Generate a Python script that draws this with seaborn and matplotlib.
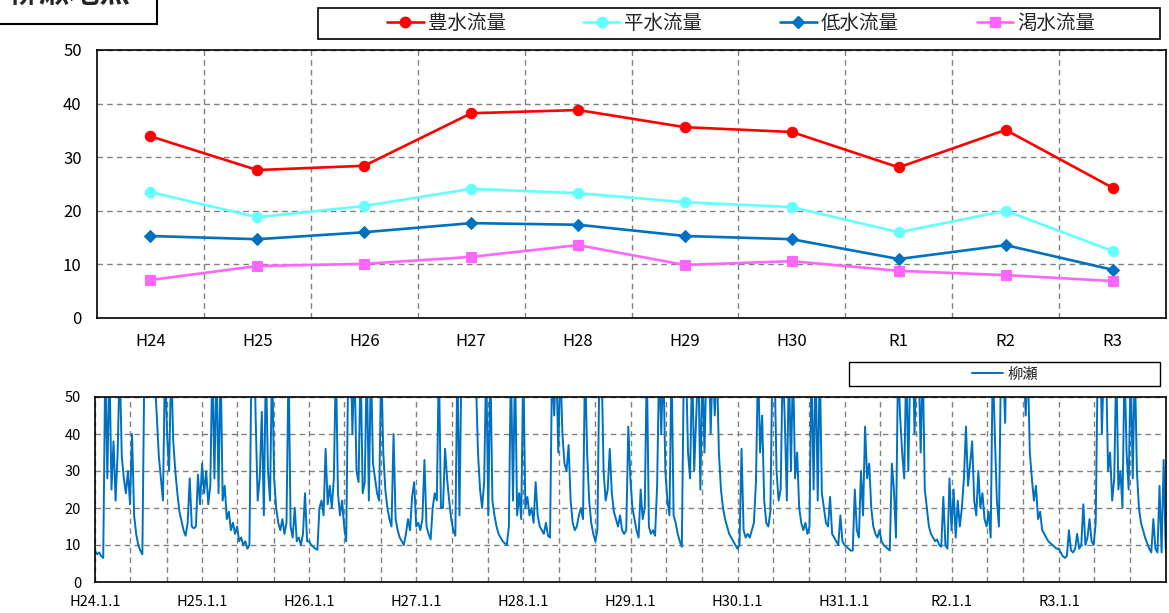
import numpy as np
import pandas as pd
import matplotlib
matplotlib.use("Agg")
import matplotlib.pyplot as plt
import matplotlib.dates as mdates
from matplotlib.patches import Rectangle
from matplotlib.lines import Line2D
import seaborn as sns

# ---------------- data ----------------
title_text = "柳瀬地点"
years = ["H24", "H25", "H26", "H27", "H28", "H29", "H30", "R1", "R2", "R3"]
series_names = ["豊水流量", "平水流量", "低水流量", "渇水流量"]
hosui = [33.9, 27.6, 28.4, 38.2, 38.8, 35.6, 34.7, 28.1, 35.1, 24.3]
heisui = [23.5, 18.8, 20.9, 24.1, 23.3, 21.6, 20.7, 16.0, 20.0, 12.5]
teisui = [15.3, 14.7, 16.0, 17.7, 17.4, 15.3, 14.7, 11.0, 13.6, 9.0]
kassui = [7.1, 9.7, 10.1, 11.4, 13.6, 9.9, 10.6, 8.8, 8.0, 6.9]

station_name = "柳瀬"
flow_start, flow_end = "2012-01-01", "2021-12-31"
flow_2012 = [8.5, 7.5, 8, 7, 6.5, 60, 28, 60, 25, 38, 22, 35, 60, 34, 28, 24, 30, 21, 40, 18,
             13, 10, 8.5, 7.5, 60, 70, 60, 80, 65, 55, 45, 34, 28, 22, 60, 40, 30, 60, 38, 30,
             24, 19, 16.5, 14, 12.5, 16, 28, 15, 14.5, 15, 29, 21]
flow_2013 = [32, 24, 30, 21, 26, 60, 28, 60, 24, 60, 22, 26, 17, 19, 14, 16, 13, 15, 11, 12,
             10, 11, 9, 10, 60, 75, 45, 22, 28, 46, 18, 60, 30, 22, 60, 28, 20, 16, 14, 17,
             13, 16, 60, 15, 12, 20, 11, 12, 10, 13, 24, 11]
flow_2014 = [11, 10, 9.5, 9, 8.7, 20, 22, 18, 36, 21, 26, 20, 28, 60, 24, 18, 22, 15, 11, 60,
             70, 40, 60, 30, 27, 60, 24, 27, 60, 22, 60, 32, 28, 24, 22, 60, 35, 25, 20, 17,
             15, 40, 17, 14, 12, 11, 10, 13, 17, 14, 23, 27]
flow_2015 = [15, 16, 14, 17, 33, 15, 13, 11.5, 20, 24, 22, 60, 20, 20, 36, 28, 22, 17, 14, 12.5,
             60, 18, 60, 70, 80, 65, 90, 60, 75, 55, 35, 25, 20, 27, 60, 18, 60, 22, 18, 15,
             13, 12, 11, 10.5, 10, 15, 60, 22, 60, 18, 24, 17]
flow_2016 = [60, 20, 23, 18, 20, 16, 27, 18, 15, 14, 13, 16, 12.5, 12, 60, 45, 60, 35, 60, 40,
             32, 30, 37, 22, 16, 14, 15, 18, 20, 17, 60, 35, 22, 16, 13, 11, 14, 60, 60, 30,
             22, 25, 36, 24, 19, 17, 15, 18, 14, 13, 14, 42]
flow_2017 = [28, 20, 17, 14, 12, 25, 17, 20, 60, 15, 13, 14, 12.5, 26, 60, 40, 60, 30, 22, 18,
             60, 18, 16, 13, 11, 9.5, 60, 60, 35, 28, 60, 30, 45, 60, 25, 60, 35, 60, 70, 40,
             60, 45, 60, 35, 25, 20, 17, 15, 13, 12, 11, 10]
flow_2018 = [9, 10, 36, 14, 12, 13, 12, 14, 16, 27, 60, 35, 45, 22, 16, 15, 19, 60, 60, 30,
             22, 25, 60, 44, 22, 60, 30, 60, 28, 35, 20, 16, 14, 16, 13, 15, 60, 25, 60, 22,
             60, 24, 20, 16, 15, 23, 13, 12, 11, 10, 18, 11]
flow_2019 = [10, 9.5, 9, 8.5, 8.5, 25, 14, 12, 30, 18, 42, 28, 32, 20, 15, 13, 12, 14, 11, 10,
             9.5, 9, 8.5, 32, 25, 12, 60, 45, 35, 28, 60, 30, 60, 70, 40, 60, 60, 35, 60, 25,
             20, 15, 13, 12, 11, 11.5, 10, 9.5, 23, 10, 9, 28]
flow_2020 = [14, 25, 12, 22, 15, 20, 28, 42, 26, 32, 38, 22, 18, 30, 20, 24, 17, 15, 19, 12,
             60, 40, 22, 15, 60, 60, 43, 70, 80, 60, 90, 75, 65, 85, 70, 60, 45, 60, 35, 28,
             22, 26, 17, 19, 14, 13, 12, 11, 10.5, 10, 9.5, 9]
flow_2021 = [9, 8, 7, 6.5, 7, 14, 8.5, 8, 9, 13, 9, 10, 21, 10, 12, 17, 11, 10, 16, 60,
             70, 40, 60, 60, 30, 35, 22, 28, 60, 25, 30, 20, 60, 35, 25, 60, 28, 60, 30, 20,
             16, 14, 12, 10.5, 9, 8, 17, 9, 8, 26, 8, 33, 9]
flow_tick_dates = ["2012-01-01", "2013-01-01", "2014-01-01", "2015-01-01", "2016-01-01",
                   "2017-01-01", "2018-01-01", "2019-01-01", "2020-01-01", "2021-01-01"]
flow_tick_labels = ["H24.1.1", "H25.1.1", "H26.1.1", "H27.1.1", "H28.1.1",
                    "H29.1.1", "H30.1.1", "H31.1.1", "R2.1.1", "R3.1.1"]

# ---------------- style ----------------
sns.set_theme(style="white")
plt.rcParams["font.family"] = ["Noto Sans CJK JP", "DejaVu Sans"]

W, H = 1169, 613
fig = plt.figure(figsize=(W / 100, H / 100), dpi=100)


def fx(px):
    return px / W


def fy(py):
    return 1 - py / H


GRID = dict(color="#808080", linestyle=(0, (4, 3)), linewidth=1.0)

# ---------------- top chart ----------------
ax1 = fig.add_axes([fx(97), fy(318), fx(1166) - fx(97), (318 - 50) / H])
styles = [("#FF0000", "o", 7.5), ("#66FFFF", "o", 7.5), ("#0070C0", "D", 6), ("#FF66FF", "s", 7)]
handles = []
for vals, name, (c, m, ms) in zip([hosui, heisui, teisui, kassui], series_names, styles):
    sns.lineplot(x=years, y=vals, ax=ax1, color=c, marker=m, markersize=ms,
                 markeredgecolor=c, linewidth=1.9, sort=False, legend=False)
    handles.append(Line2D([], [], color=c, marker=m, markersize=ms, markeredgecolor=c, linewidth=1.9))

ax1.set_xlim(-0.5, len(years) - 0.5)
ax1.set_ylim(0, 50)
ax1.set_yticks(np.arange(0, 51, 10))
ax1.set_xticks(np.arange(len(years) - 1) + 0.5, minor=True)
ax1.grid(which="minor", axis="x", **GRID)
ax1.grid(which="major", axis="y", **GRID)
ax1.grid(which="major", axis="x", visible=False)
ax1.tick_params(axis="both", which="both", length=0, labelsize=12, colors="black")
ax1.tick_params(axis="x", pad=11)
ax1.tick_params(axis="y", pad=11)
ax1.set_xlabel("")
ax1.set_ylabel("")
for s in ax1.spines.values():
    s.set_color("black")
    s.set_linewidth(1.2)

# legend of top chart
fig.patches.append(Rectangle((fx(318), fy(39)), fx(1160) - fx(318), (39 - 8) / H,
                             transform=fig.transFigure, facecolor="white",
                             edgecolor="black", linewidth=1.2, zorder=0))
fig.legend(handles, series_names, loc="center", bbox_to_anchor=(fx(741), fy(23.5)),
           ncol=4, frameon=False, fontsize=14, handlelength=1.9, handletextpad=0.2,
           columnspacing=4.0, borderpad=0, borderaxespad=0)

# ---------------- bottom chart ----------------
ax2 = fig.add_axes([fx(95), fy(582), fx(1166) - fx(95), (582 - 397) / H])
flow = np.concatenate([flow_2012, flow_2013, flow_2014, flow_2015, flow_2016,
                       flow_2017, flow_2018, flow_2019, flow_2020, flow_2021])
dates = pd.date_range(flow_start, flow_end, periods=len(flow))
sns.lineplot(x=dates, y=flow, ax=ax2, color="#0070C0", linewidth=1.4, legend=False)
ax2.set_xlim(pd.Timestamp(flow_start), pd.Timestamp(flow_end) + pd.Timedelta(days=1))
ax2.set_ylim(0, 50)
ax2.set_yticks(np.arange(0, 51, 10))
ax2.set_xticks(pd.to_datetime(flow_tick_dates))
ax2.set_xticklabels(flow_tick_labels)
ax2.xaxis.set_minor_locator(mdates.MonthLocator(bymonth=[1, 5, 9]))
ax2.grid(which="minor", axis="x", **GRID)
ax2.grid(which="major", axis="x", **GRID)
ax2.grid(which="major", axis="y", **GRID)
ax2.tick_params(axis="both", which="both", length=0, labelsize=10.5, colors="black")
ax2.tick_params(axis="x", pad=9)
ax2.tick_params(axis="y", pad=10)
ax2.set_xlabel("")
ax2.set_ylabel("")
for s in ax2.spines.values():
    s.set_color("black")
    s.set_linewidth(1.2)

fig.patches.append(Rectangle((fx(849), fy(386)), fx(1160) - fx(849), (386 - 362) / H,
                             transform=fig.transFigure, facecolor="white",
                             edgecolor="black", linewidth=1.0, zorder=0))
fig.legend([Line2D([], [], color="#0070C0", linewidth=1.4)], [station_name], loc="center",
           bbox_to_anchor=(fx(1005), fy(374)), frameon=False, fontsize=11,
           handlelength=2.0, handletextpad=0.3, borderpad=0, borderaxespad=0)

# ---------------- title box ----------------
fig.patches.append(Rectangle((fx(-3), fy(24)), fx(160), 40 / H, transform=fig.transFigure,
                             facecolor="white", edgecolor="black", linewidth=1.5, zorder=0))
fig.text(fx(8), fy(-7), title_text, fontsize=22, fontweight="bold", ha="left", va="center")

fig.savefig("out.png", dpi=100, facecolor="white")
